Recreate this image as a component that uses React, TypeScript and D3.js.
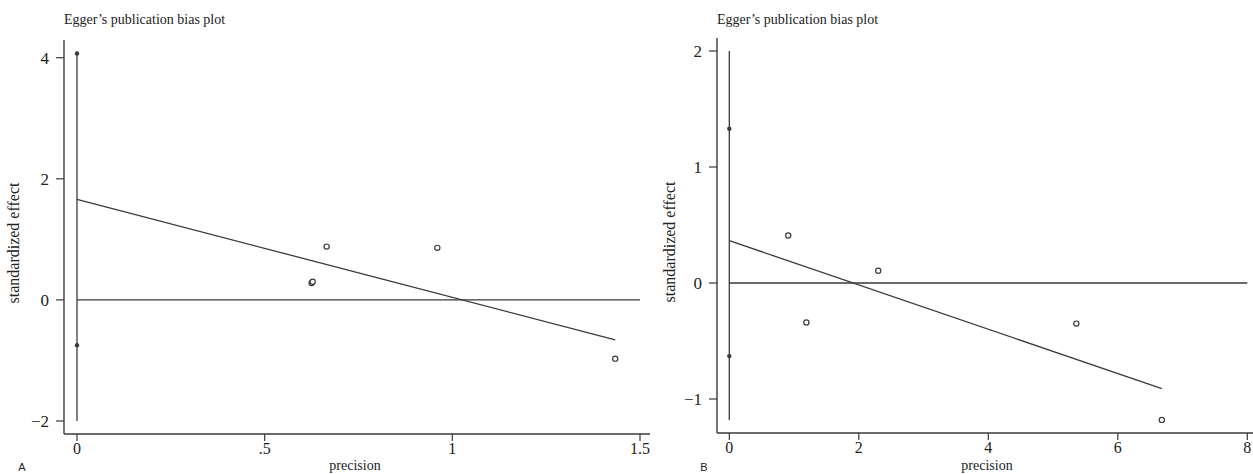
import React from "react";
import * as d3 from "d3";

// Panel A data
const aIntercept = [4.07, -0.75];
const aCI = [-2, 4.07];
const aPrecision = [0.625, 0.628, 0.665, 0.96, 1.434];
const aEffect = [0.28, 0.3, 0.88, 0.86, -0.97];
const aRegX = [0, 1.434];
const aRegY = [1.66, -0.66];
const aXTicks = [0, 0.5, 1, 1.5];
const aXTickLabels = ["0", ".5", "1", "1.5"];
const aYTicks = [-2, 0, 2, 4];
const aYTickLabels = ["\u22122", "0", "2", "4"];

// Panel B data
const bIntercept = [1.33, -0.63];
const bCI = [-1.18, 2];
const bPrecision = [0.91, 1.19, 2.3, 5.36, 6.68];
const bEffect = [0.41, -0.34, 0.105, -0.35, -1.18];
const bRegX = [0, 6.68];
const bRegY = [0.365, -0.91];
const bXTicks = [0, 2, 4, 6, 8];
const bXTickLabels = ["0", "2", "4", "6", "8"];
const bYTicks = [-1, 0, 1, 2];
const bYTickLabels = ["\u22121", "0", "1", "2"];

const INK = "#3a3a3a";
const SERIF = "'Liberation Serif', 'DejaVu Serif', serif";

type PanelProps = {
  letter: string;
  xDomain: [number, number];
  xRange: [number, number];
  yDomain: [number, number];
  yRange: [number, number];
  axisX: number;
  axisTop: number;
  axisY: number;
  axisRight: number;
  zeroLineEnd: number;
  intercept: number[];
  ci: number[];
  px: number[];
  py: number[];
  regX: number[];
  regY: number[];
  xTicks: number[];
  xTickLabels: string[];
  yTicks: number[];
  yTickLabels: string[];
  ylabelX: number;
  ylabelY: number;
  xlabelX: number;
  letterX: number;
};

function Panel(p: PanelProps) {
  const x = d3.scaleLinear().domain(p.xDomain).range(p.xRange);
  const y = d3.scaleLinear().domain(p.yDomain).range(p.yRange);
  const line = d3
    .line<number>()
    .x((_, i) => x(p.regX[i]))
    .y((d) => y(d));
  return (
    <g>
      <text x={p.axisX} y={24} fontFamily={SERIF} fontSize={14} fill="#222">
        Egger’s publication bias plot
      </text>
      {/* axes */}
      <line x1={p.axisX} x2={p.axisX} y1={p.axisTop} y2={p.axisY} stroke={INK} strokeWidth={1.4} />
      <line x1={p.axisX} x2={p.axisRight} y1={p.axisY} y2={p.axisY} stroke={INK} strokeWidth={1.4} />
      {p.yTicks.map((t, i) => (
        <g key={"yt" + i}>
          <line x1={p.axisX - 8} x2={p.axisX} y1={y(t)} y2={y(t)} stroke={INK} strokeWidth={1.2} />
          <text
            x={p.axisX - 15}
            y={y(t)}
            dy="0.35em"
            textAnchor="end"
            fontFamily={SERIF}
            fontSize={17}
            fill="#222"
          >
            {p.yTickLabels[i]}
          </text>
        </g>
      ))}
      {p.xTicks.map((t, i) => (
        <g key={"xt" + i}>
          <line x1={x(t)} x2={x(t)} y1={p.axisY} y2={p.axisY + 7} stroke={INK} strokeWidth={1.2} />
          <text
            x={x(t)}
            y={p.axisY + 20}
            textAnchor="middle"
            fontFamily={SERIF}
            fontSize={16}
            fill="#222"
          >
            {p.xTickLabels[i]}
          </text>
        </g>
      ))}
      <text
        transform={`translate(${p.ylabelX},${p.ylabelY}) rotate(-90)`}
        textAnchor="middle"
        fontFamily={SERIF}
        fontSize={16}
        fill="#222"
      >
        standardized effect
      </text>
      <text x={p.xlabelX} y={470} textAnchor="middle" fontFamily={SERIF} fontSize={14} fill="#222">
        precision
      </text>
      <text x={p.letterX} y={471} textAnchor="middle" fontFamily="'Liberation Sans', Arial, sans-serif" fontSize={11} fill="#222">
        {p.letter}
      </text>
      {/* intercept CI line */}
      <line x1={x(0)} x2={x(0)} y1={y(p.ci[0])} y2={y(p.ci[1])} stroke={INK} strokeWidth={1.3} />
      {/* zero line */}
      <line x1={x(0)} x2={x(p.zeroLineEnd)} y1={y(0)} y2={y(0)} stroke={INK} strokeWidth={1.3} />
      {/* regression line */}
      <path d={line(p.regY) || ""} fill="none" stroke={INK} strokeWidth={1.3} />
      {p.intercept.map((v, i) => (
        <circle key={"ic" + i} cx={x(0)} cy={y(v)} r={2.2} fill={INK} />
      ))}
      {p.px.map((v, i) => (
        <circle
          key={"pt" + i}
          cx={x(v)}
          cy={y(p.py[i])}
          r={2.6}
          fill="white"
          stroke={INK}
          strokeWidth={1.2}
        />
      ))}
    </g>
  );
}

export default function App() {
  return (
    <svg
      width={1253}
      height={474}
      style={{ position: "absolute", left: 0, top: 0, background: "white" }}
    >
      <rect width={1253} height={474} fill="white" />
      <Panel
        letter="A"
        xDomain={[0, 1.5]}
        xRange={[77, 640]}
        yDomain={[-2, 4]}
        yRange={[421, 57.7]}
        axisX={64}
        axisTop={40}
        axisY={434}
        axisRight={650}
        zeroLineEnd={1.5}
        intercept={aIntercept}
        ci={aCI}
        px={aPrecision}
        py={aEffect}
        regX={aRegX}
        regY={aRegY}
        xTicks={aXTicks}
        xTickLabels={aXTickLabels}
        yTicks={aYTicks}
        yTickLabels={aYTickLabels}
        ylabelX={19}
        ylabelY={243}
        xlabelX={355}
        letterX={22}
      />
      <Panel
        letter="B"
        xDomain={[0, 8]}
        xRange={[729.3, 1247.3]}
        yDomain={[-1, 2]}
        yRange={[399, 51]}
        axisX={717}
        axisTop={38}
        axisY={433}
        axisRight={1253}
        zeroLineEnd={8}
        intercept={bIntercept}
        ci={bCI}
        px={bPrecision}
        py={bEffect}
        regX={bRegX}
        regY={bRegY}
        xTicks={bXTicks}
        xTickLabels={bXTickLabels}
        yTicks={bYTicks}
        yTickLabels={bYTickLabels}
        ylabelX={675}
        ylabelY={242}
        xlabelX={987}
        letterX={704}
      />
    </svg>
  );
}
